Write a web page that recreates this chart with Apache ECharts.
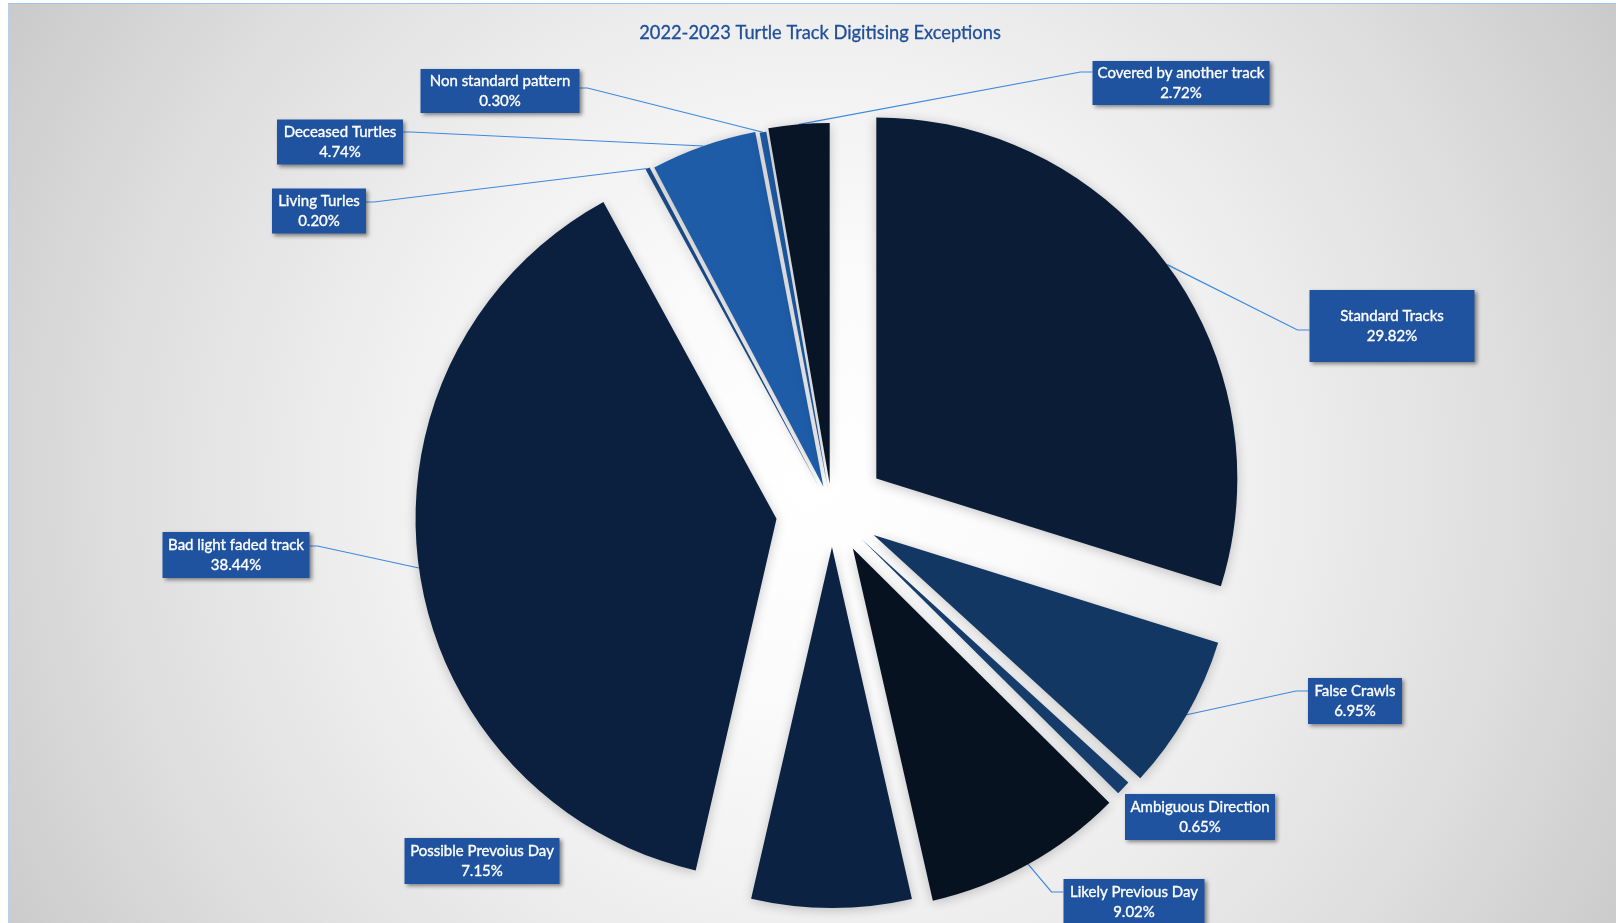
<!DOCTYPE html>
<html>
<head>
<meta charset="utf-8">
<title>2022-2023 Turtle Track Digitising Exceptions</title>
<script src="https://cdn.jsdelivr.net/npm/echarts@6/dist/echarts.min.js"></script>
<style>
  html, body { margin: 0; padding: 0; background: #ffffff; }
  #frame {
    position: absolute; left: 8px; top: 3px; right: 0; bottom: 0;
    border-top: 1px solid #9ec2ea; border-left: 1px solid #b8d0ec;
    background: radial-gradient(circle farthest-corner at 50% 52%,
      #ffffff 0%, #fbfbfb 22%, #f1f1f1 45%, #dedede 75%, #cacaca 100%);
  }
  #chart { position: absolute; left: 0; top: 0; width: 1616px; height: 923px; }
</style>
</head>
<body>
<div id="frame"></div>
<div id="chart"></div>
<script>
// Categories and their share of all digitising exceptions (%), clockwise from 12 o'clock
const categories = [
  'Standard Tracks', 'False Crawls', 'Ambiguous Direction', 'Likely Previous Day',
  'Possible Prevoius Day', 'Bad light faded track', 'Living Turles',
  'Deceased Turtles', 'Non standard pattern', 'Covered by another track'
];
const shares = [29.82, 6.95, 0.65, 9.02, 7.15, 38.44, 0.20, 4.74, 0.30, 2.72];

// Slice styling
const sliceColors = ['#0a1c36', '#133763', '#153c6b', '#06121f', '#0c2242',
                     '#0b203f', '#1b4b88', '#1e5ca8', '#1d59a3', '#071526'];
// How far each slice is pulled out from the pie centre (px)
const explode = [55, 48, 41, 43, 36, 56, 28, 26, 24, 27];

// Pie geometry
const PIE_CENTER = [832, 511];
const PIE_RADIUS = 361;

// Callout boxes: centre, size, and which side the leader line enters from
const callouts = [
  { cx: 1392, cy: 326, w: 165, h: 72, side: 'left',  ly: 330 },
  { cx: 1355, cy: 701, w: 94,  h: 46, side: 'left',  ly: 691 },
  { cx: 1200, cy: 817, w: 150, h: 46, side: null },
  { cx: 1134, cy: 902, w: 141, h: 46, side: 'left',  ly: 892 },
  { cx: 482,  cy: 861, w: 155, h: 46, side: null },
  { cx: 236,  cy: 555, w: 147, h: 46, side: 'right', ly: 546 },
  { cx: 319,  cy: 211, w: 94,  h: 45, side: 'right', ly: 202 },
  { cx: 340,  cy: 142, w: 126, h: 45, side: 'right', ly: 132 },
  { cx: 500,  cy: 91,  w: 159, h: 44, side: 'right', ly: 88 },
  { cx: 1181, cy: 83,  w: 177, h: 44, side: 'left',  ly: 72 }
];

const total = shares.reduce((a, b) => a + b, 0);
const chart = echarts.init(document.getElementById('chart'), null, { renderer: 'canvas' });

const hidden = {
  itemStyle: { color: 'rgba(0,0,0,0)', borderWidth: 0 },
  label: { show: false },
  labelLine: { show: false },
  emphasis: { disabled: true }
};

let acc = 0;
const series = shares.map((v, i) => {
  const mid = (acc + v / 2) / total * Math.PI * 2;
  acc += v;
  const d = explode[i];
  const center = [PIE_CENTER[0] + d * Math.sin(mid), PIE_CENTER[1] - d * Math.cos(mid)];
  const box = callouts[i];
  const padV = (box.h - 40) / 2;

  const data = categories.map((name, j) => {
    if (j !== i) return Object.assign({ name, value: shares[j] }, hidden);
    return {
      name, value: shares[j],
      itemStyle: {
        color: sliceColors[j],
        shadowBlur: 12, shadowColor: 'rgba(0,0,0,0.22)', shadowOffsetY: 2
      },
      label: {
        show: true,
        position: 'outside',
        alignTo: 'none',
        formatter: p => p.name + '\n' + p.value.toFixed(2) + '%',
        color: '#ffffff',
        fontFamily: 'Lato, "Noto Sans", sans-serif',
        fontSize: 15,
        lineHeight: 20,
        textBorderColor: '#ffffff',
        textBorderWidth: 0.35,
        width: box.w,
        align: 'center',
        padding: [padV, 0, padV, 0],
        backgroundColor: '#1f53a0',
        shadowColor: 'rgba(0,0,0,0.45)',
        shadowBlur: 4, shadowOffsetX: 2, shadowOffsetY: 2
      },
      labelLine: {
        show: !!box.side,
        length: 10, length2: 10, smooth: false,
        lineStyle: { color: '#3f88dd', width: 1.2 }
      }
    };
  });

  return {
    type: 'pie',
    name: categories[i],
    center: center,
    radius: [0, PIE_RADIUS],
    startAngle: 90,
    clockwise: true,
    avoidLabelOverlap: false,
    silent: true,
    animation: false,
    z: 2,
    data: data,
    labelLayout: function (params) {
      if (params.dataIndex !== i) return {};
      const out = { x: box.cx, y: box.cy, align: 'center', verticalAlign: 'middle' };
      const pts = params.labelLinePoints;
      if (box.side && pts) {
        const edgeX = box.side === 'left' ? box.cx - box.w / 2 : box.cx + box.w / 2;
        const elbowX = box.side === 'left' ? edgeX - 12 : edgeX + 8;
        out.labelLinePoints = [pts[0], [elbowX, box.ly], [edgeX, box.ly]];
      }
      return out;
    }
  };
});

chart.setOption({
  backgroundColor: 'transparent',
  animation: false,
  graphic: [{
    type: 'text',
    x: 820, y: 33,
    style: {
      text: '2022-2023 Turtle Track Digitising Exceptions',
      fill: '#1f4e9a',
      stroke: '#1f4e9a',
      lineWidth: 0.3,
      font: '18.3px Lato, "Noto Sans", sans-serif',
      align: 'center',
      verticalAlign: 'middle'
    }
  }],
  series: series
});
</script>
</body>
</html>
